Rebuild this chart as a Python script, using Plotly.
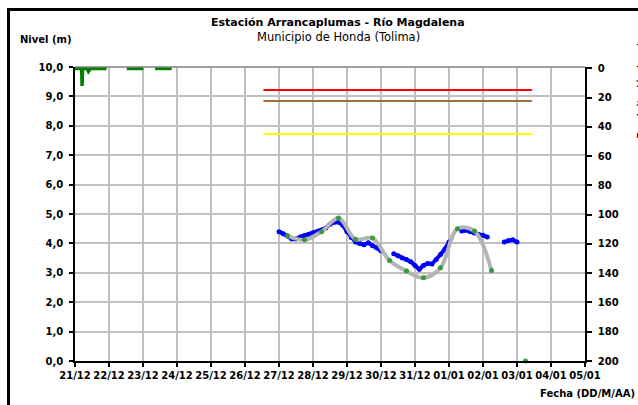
import pandas as pd
import plotly.graph_objects as go

# Nivel observado (m), cada 3 horas desde 27/12 00:00
nivel_inicio = "2010-12-27 00:00"
nivel_obs = [4.40, 4.33, 4.25, 4.15, 4.15, 4.22, 4.27, 4.30, 4.35, 4.40,
             4.45, 4.52, 4.65, 4.72, 4.72, 4.62, 4.40, 4.20, 4.05, 4.00,
             3.95, 4.02, 3.92, 3.85, 3.75, None, None, 3.65, 3.58, 3.50,
             3.45, 3.38, 3.25, 3.12, 3.25, 3.32, 3.30, 3.45, 3.62, 3.80,
             4.05, None, None, 4.42, 4.45, 4.40, 4.35, 4.30, 4.28, 4.22,
             None, None, None, 4.05, 4.10, 4.12, 4.05]

# Nivel pronosticado (m), cada 12 horas
pron_fechas = ["2010-12-27 06:00", "2010-12-27 18:00", "2010-12-28 06:00", "2010-12-28 18:00",
               "2010-12-29 06:00", "2010-12-29 18:00", "2010-12-30 06:00", "2010-12-30 18:00",
               "2010-12-31 06:00", "2010-12-31 18:00", "2011-01-01 06:00", "2011-01-01 18:00",
               "2011-01-02 06:00", "2011-01-02 18:00", "2011-01-03 06:00"]
pron_nivel = [4.26, 4.12, 4.40, 4.86, 4.14, 4.18, 3.42, 3.06, 2.83, 3.17, 4.50, 4.42, 3.08, None, 0.0]

# Precipitación (mm)
lluvia_fechas = ["2010-12-21 00:00", "2010-12-21 04:40", "2010-12-21 05:00", "2010-12-21 05:20",
                 "2010-12-21 08:30", "2010-12-21 09:30", "2010-12-21 11:00", "2010-12-21 22:20",
                 "2010-12-22 05:00",
                 "2010-12-22 12:30", "2010-12-23 00:15",
                 "2010-12-23 04:00",
                 "2010-12-23 08:30", "2010-12-23 20:15"]
lluvia_mm = [0, 0, 12, 0, 0, 2, 0, 0, None, 0, 0, None, 0, 0]

# Umbrales de alerta (m)
umbral_fechas = ["2010-12-26 13:00", "2011-01-03 10:30"]
umbral_rojo = 9.22
umbral_naranja = 8.84
umbral_amarillo = 7.72

FUENTE = "DejaVu Sans"

fig = go.Figure()

# umbrales
for valor, color in [(umbral_rojo, "#ff0000"), (umbral_naranja, "#a0703c"), (umbral_amarillo, "#ffff00")]:
    fig.add_trace(go.Scatter(x=umbral_fechas, y=[valor, valor], mode="lines",
                             line=dict(color=color, width=2), showlegend=False, hoverinfo="skip"))

# nivel observado
fechas_obs = pd.date_range(nivel_inicio, periods=len(nivel_obs), freq="3h")
fig.add_trace(go.Scatter(x=fechas_obs, y=nivel_obs, mode="lines+markers",
                         line=dict(color="#0000ff", width=4),
                         marker=dict(color="#0000ff", size=5),
                         connectgaps=False, showlegend=False))

# pronóstico
fig.add_trace(go.Scatter(x=pron_fechas, y=pron_nivel, mode="lines+markers",
                         line=dict(color="#b4b4b4", width=4, shape="spline", smoothing=1),
                         marker=dict(color="#3a9a3a", size=5),
                         connectgaps=False, cliponaxis=False, showlegend=False))

# precipitación
fig.add_trace(go.Scatter(x=lluvia_fechas, y=lluvia_mm, mode="lines", yaxis="y2",
                         line=dict(color="#008000", width=3.5),
                         connectgaps=False, showlegend=False))

tickfont = dict(family=FUENTE, size=10, color="black", weight="bold")

fig.update_layout(
    width=638, height=405,
    margin=dict(l=75, r=53, t=67, b=44),
    paper_bgcolor="white", plot_bgcolor="white",
    separators=",.",
    xaxis=dict(type="date", range=["2010-12-21", "2011-01-05"],
               tick0="2010-12-21", dtick=86400000, tickformat="%d/%m",
               showgrid=True, gridcolor="#c0c0c0", gridwidth=1.5,
               showline=True, linecolor="black", linewidth=1.5,
               ticks="outside", ticklen=4, tickcolor="black", tickwidth=1.5,
               tickfont=tickfont, zeroline=False),
    yaxis=dict(range=[0, 10], dtick=1, tickformat=".1f",
               showgrid=True, gridcolor="#c0c0c0", gridwidth=1.5,
               showline=True, linecolor="black", linewidth=1.5,
               ticks="outside", ticklen=4, tickcolor="black", tickwidth=1.5,
               ticklabelstandoff=4, tickfont=tickfont, zeroline=False),
    yaxis2=dict(overlaying="y", side="right", range=[200, -1], dtick=20,
                tick0=0, showgrid=False, zeroline=False,
                showline=True, linecolor="black", linewidth=1.5,
                ticks="outside", ticklen=5, tickcolor="black", tickwidth=1.5,
                ticklabelstandoff=4, tickfont=tickfont),
    shapes=[
        dict(type="line", xref="paper", yref="paper", x0=0, x1=1, y0=1, y1=1,
             line=dict(color="#808080", width=1.5)),
    ],
    annotations=[
        # marco exterior (arriba e izquierda)
        dict(text=" ", xref="paper", yref="paper", x=-0.1333, y=1.2007, xanchor="left", yanchor="top",
             width=640, height=3, showarrow=False, bgcolor="black", borderpad=0, borderwidth=0,
             font=dict(size=1)),
        dict(text=" ", xref="paper", yref="paper", x=-0.1333, y=1.2007, xanchor="left", yanchor="top",
             width=3, height=400, showarrow=False, bgcolor="black", borderpad=0, borderwidth=0,
             font=dict(size=1)),
        dict(text="<b>Estación Arrancaplumas - Río Magdalena</b>", xref="paper", yref="paper",
             x=0.5157, y=1.15, xanchor="center", yanchor="middle", showarrow=False,
             font=dict(family=FUENTE, size=11, color="black")),
        dict(text="Municipio de Honda (Tolima)", xref="paper", yref="paper",
             x=0.5157, y=1.102, xanchor="center", yanchor="middle", showarrow=False,
             font=dict(family=FUENTE, size=11.5, color="black")),
        dict(text="<b>Nivel (m)</b>", xref="paper", yref="paper",
             x=-0.1118, y=1.092, xanchor="left", yanchor="middle", showarrow=False,
             font=dict(family=FUENTE, size=10, color="black")),
        dict(text="<b>Fecha (DD/M/AA)</b>", xref="paper", yref="paper",
             x=1.102, y=-0.112, xanchor="right", yanchor="middle", showarrow=False,
             font=dict(family=FUENTE, size=10, color="black")),
        dict(text="<b>Precipitación (mm)</b>", xref="paper", yref="paper",
             x=1.108, y=0.92, xanchor="center", yanchor="middle", showarrow=False,
             textangle=-90, font=dict(family=FUENTE, size=9, color="black")),
    ],
)

fig.write_html("out.html", config={"displayModeBar": False},
               post_script="document.body.style.margin='0';")
